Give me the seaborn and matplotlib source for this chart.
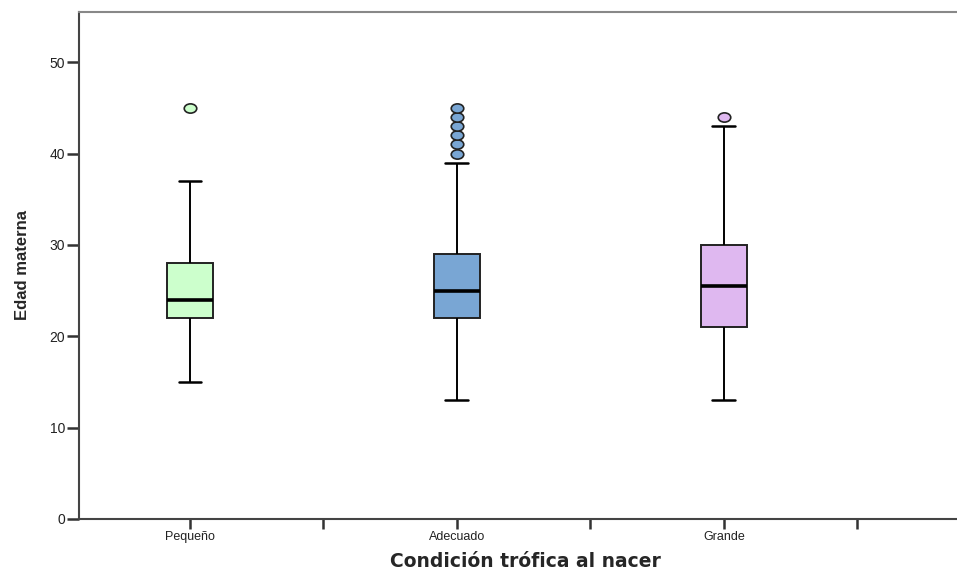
import matplotlib
matplotlib.use("Agg")
import matplotlib.pyplot as plt
import seaborn as sns
import pandas as pd
from matplotlib.path import Path
from matplotlib.transforms import Affine2D

# categorías y colores (estilo SPSS)
grupos = ["Pequeño", "Adecuado", "Grande"]
colores = ["#CCFFCC", "#79A6D4", "#DFB8F0"]

# muestras: cuartiles, bigotes y atípicos
edad_pequeno = [15, 22, 22, 24, 24, 28, 28, 37, 45]
edad_adecuado = [13, 22, 22, 22, 22, 22, 22, 22,
                 23, 23, 24, 24, 24, 25, 25, 26, 26, 27, 28, 28, 29, 29,
                 39, 40, 41, 42, 43, 44, 45]
edad_grande = [13, 21, 21, 25, 25.5, 26, 30, 43, 44]

yticks = [0, 10, 20, 30, 40, 50]

df = pd.concat([
    pd.DataFrame({"grupo": "Pequeño", "edad": edad_pequeno}),
    pd.DataFrame({"grupo": "Adecuado", "edad": edad_adecuado}),
    pd.DataFrame({"grupo": "Grande", "edad": edad_grande}),
], ignore_index=True)

sns.set_style("white")
plt.rcParams["font.family"] = ["Liberation Sans", "DejaVu Sans"]

fig = plt.figure(figsize=(9.57, 5.71), dpi=100)
ax = fig.add_axes([0.0825, 0.0911, 0.9175, 0.888])

elipse = Path.unit_circle().transformed(Affine2D().scale(1.35, 1.0))

sns.boxplot(
    data=df, x="grupo", y="edad", hue="grupo", order=grupos, hue_order=grupos,
    palette=dict(zip(grupos, colores)), legend=False, width=0.172,
    linecolor="#222222", linewidth=1.4, whis=1.5, saturation=1,
    medianprops=dict(color="black", linewidth=2.6),
    whiskerprops=dict(color="black", linewidth=1.4),
    capprops=dict(color="black", linewidth=1.8),
    flierprops=dict(marker=elipse, markersize=9, markeredgecolor="#222222",
                    markeredgewidth=1.2),
    ax=ax,
)

# colorear los atípicos como su caja
for line, color in zip([l for l in ax.lines if l.get_linestyle() == "None"], colores):
    line.set_markerfacecolor(color)

ax.set_xlim(-0.416, 2.873)
ax.set_ylim(0, 55.5)
ax.set_yticks(yticks)
ax.set_yticklabels([str(t) for t in yticks], fontsize=10, color="#222222")
ax.set_xticks([0, 0.5, 1, 1.5, 2, 2.5])
ax.set_xticklabels(["Pequeño", "", "Adecuado", "", "Grande", ""], fontsize=9, color="#222222")
ax.tick_params(axis="both", direction="out", length=9, width=1.8, color="#333333",
               pad=1, bottom=True, left=True)
ax.tick_params(axis="x", length=7, pad=2)

for side in ["left", "bottom"]:
    ax.spines[side].set_color("#444444")
    ax.spines[side].set_linewidth(1.5)
ax.spines["top"].set_color("#888888")
ax.spines["top"].set_linewidth(1.5)
ax.spines["right"].set_visible(False)

ax.set_xlabel("Condición trófica al nacer", fontsize=13.5, fontweight="bold",
              family=["DejaVu Sans"])
ax.xaxis.set_label_coords(0.508, -0.066)
ax.set_ylabel("Edad materna", fontsize=12, fontweight="bold", labelpad=14,
              family=["Liberation Sans Narrow", "Liberation Sans", "DejaVu Sans"])

fig.savefig("out.png", dpi=100)
